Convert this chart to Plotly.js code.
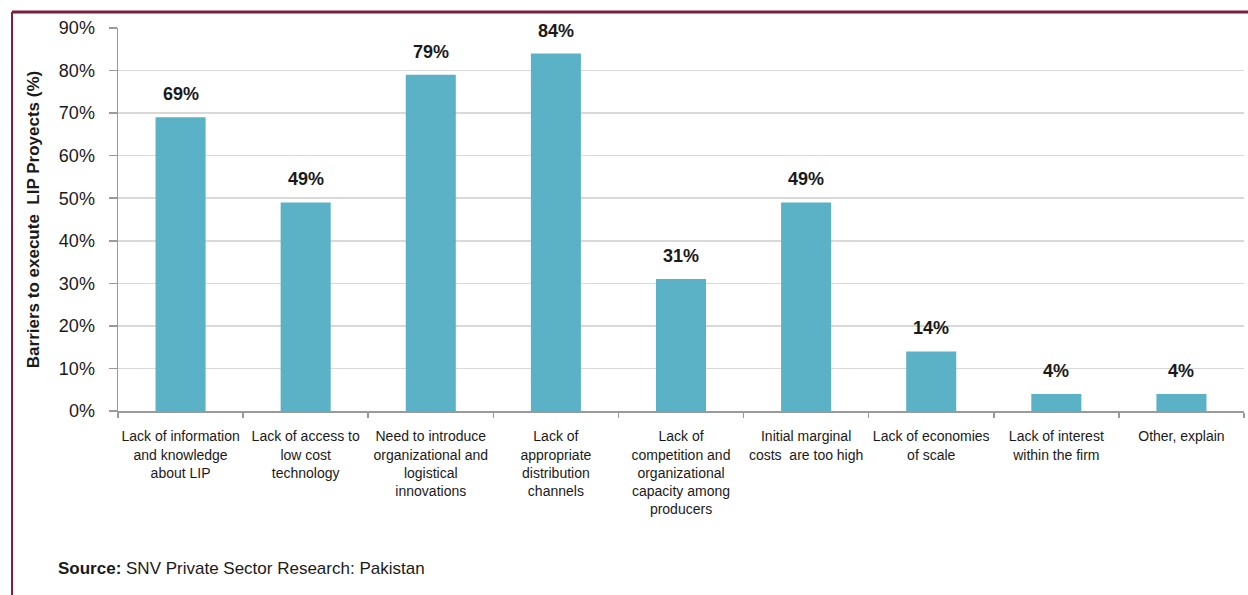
<!DOCTYPE html>
<html>
<head>
<meta charset="utf-8">
<script src="https://cdn.plot.ly/plotly-3.0.1.min.js"></script>
<style>
  html, body { margin: 0; padding: 0; background: #ffffff; }
  #chart { width: 1248px; height: 595px; }
</style>
</head>
<body>
<div id="chart"></div>
<script>
// Barriers to executing LIP projects, share of respondents
const categories = [
  "Lack of information<br>and knowledge<br>about LIP",
  "Lack of access to<br>low cost<br>technology",
  "Need to introduce<br>organizational and<br>logistical<br>innovations",
  "Lack of<br>appropriate<br>distribution<br>channels",
  "Lack of<br>competition and<br>organizational<br>capacity among<br>producers",
  "Initial marginal<br>costs  are too high",
  "Lack of economies<br>of scale",
  "Lack of interest<br>within the firm",
  "Other, explain"
];
const values = [69, 49, 79, 84, 31, 49, 14, 4, 4];
const valueLabels = ["69%", "49%", "79%", "84%", "31%", "49%", "14%", "4%", "4%"];
const tickValues = [0, 10, 20, 30, 40, 50, 60, 70, 80, 90];
const tickLabels = ["0%", "10%", "20%", "30%", "40%", "50%", "60%", "70%", "80%", "90%"];

const font = "Liberation Sans, Arial, sans-serif";
const frameColor = "#7b1d3d";
const textColor = "#1a1a1a";

const trace = {
  type: "bar",
  x: categories,
  y: values,
  marker: { color: "#5bb1c6" },
  width: 0.4,
  hoverinfo: "skip"
};

const annotations = categories.map((c, i) => ({
  x: c,
  y: values[i],
  xref: "x",
  yref: "y",
  text: "<b>" + valueLabels[i] + "</b>",
  showarrow: false,
  yanchor: "bottom",
  yshift: 11,
  font: { family: font, size: 18, color: textColor }
}));

annotations.push({
  xref: "paper",
  yref: "paper",
  x: -0.0551,
  y: -0.412,
  xanchor: "left",
  yanchor: "middle",
  showarrow: false,
  text: "<b>Source:</b> SNV Private Sector Research: Pakistan",
  font: { family: font, size: 17, color: textColor }
});

const layout = {
  width: 1248,
  height: 595,
  margin: { l: 118, r: 4, t: 28, b: 184 },
  paper_bgcolor: "#ffffff",
  plot_bgcolor: "#ffffff",
  showlegend: false,
  font: { family: font, color: textColor },
  xaxis: {
    type: "category",
    tickson: "boundaries",
    ticks: "outside",
    ticklen: 5,
    tickcolor: "#9a9a9a",
    tickwidth: 1.5,
    showline: true,
    linecolor: "#9a9a9a",
    linewidth: 1.5,
    showgrid: false,
    tickangle: 0,
    ticklabelstandoff: 12,
    tickfont: { family: font, size: 14, color: textColor },
    automargin: false
  },
  yaxis: {
    range: [0, 90],
    tickvals: tickValues,
    ticktext: tickLabels,
    ticks: "outside",
    ticklen: 8,
    tickcolor: "#9a9a9a",
    tickwidth: 1.5,
    showline: true,
    linecolor: "#9a9a9a",
    linewidth: 1.5,
    showgrid: true,
    gridcolor: "#d9d9d9",
    gridwidth: 1.5,
    zeroline: false,
    ticklabelstandoff: 10,
    tickfont: { family: font, size: 18, color: textColor },
    title: {
      text: "<b>Barriers to execute  LIP Proyects (%)</b>",
      font: { family: font, size: 17, color: textColor },
      standoff: 15
    },
    automargin: false
  },
  annotations: annotations,
  shapes: [
    {
      type: "line", xref: "paper", yref: "paper",
      x0: -0.0941, x1: 1.01, y0: 1.0418, y1: 1.0418,
      line: { color: frameColor, width: 3 }
    },
    {
      type: "line", xref: "paper", yref: "paper",
      x0: -0.0941, x1: -0.0941, y0: 1.0418, y1: -0.5,
      line: { color: frameColor, width: 2 }
    }
  ]
};

Plotly.newPlot("chart", [trace], layout, { displayModeBar: false, staticPlot: true });
</script>
</body>
</html>
